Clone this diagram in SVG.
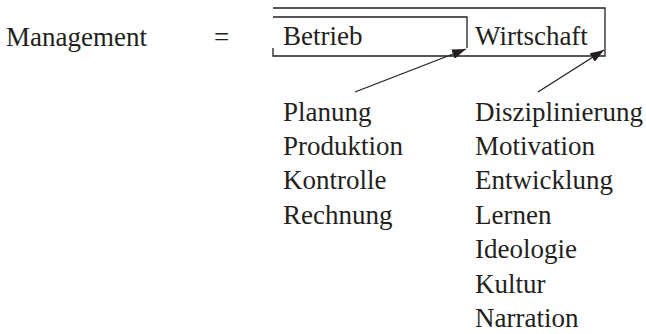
<svg xmlns="http://www.w3.org/2000/svg" width="646" height="334" viewBox="0 0 646 334">
<style>
text{font-family:"Liberation Serif","Times New Roman",serif;font-size:27px;fill:#231f20}
.ln{fill:none;stroke:#231f20;stroke-width:1.3}
</style>
<defs>
<marker id="ah" viewBox="0 0 14 10" refX="14" refY="5" markerWidth="14" markerHeight="10" markerUnits="userSpaceOnUse" orient="auto">
<path d="M0,0 L14,5 L0,10 Z" fill="#231f20"/>
</marker>
</defs>
<g id="management"><text x="6" y="46">Management</text></g>
<g id="equals"><text x="214" y="46">=</text></g>
<g id="wirtschaft">
<polyline class="ln" points="273,8 605,8 605,56 273,56 273,48"/>
<text x="475" y="45">Wirtschaft</text>
</g>
<g id="betrieb">
<polyline class="ln" points="273,17 467,17 467,48"/>
<text x="283" y="45">Betrieb</text>
</g>
<g id="betrieb-list">
<text x="283" y="121">Planung</text>
<text x="283" y="155">Produktion</text>
<text x="283" y="189">Kontrolle</text>
<text x="283" y="224">Rechnung</text>
</g>
<g id="wirtschaft-list">
<text x="475" y="121">Disziplinierung</text>
<text x="475" y="155">Motivation</text>
<text x="475" y="189">Entwicklung</text>
<text x="475" y="224">Lernen</text>
<text x="475" y="258">Ideologie</text>
<text x="475" y="293">Kultur</text>
<text x="475" y="327">Narration</text>
</g>
<g id="connectors">
<line class="ln" x1="355" y1="92" x2="466" y2="49" marker-end="url(#ah)"/>
<line class="ln" x1="538" y1="92" x2="604" y2="50" marker-end="url(#ah)"/>
</g>
</svg>
